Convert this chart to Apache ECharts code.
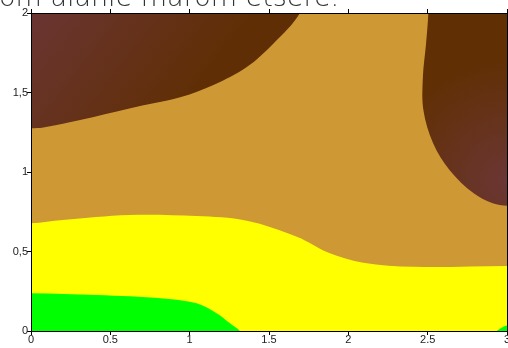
<!DOCTYPE html>
<html>
<head>
<meta charset="utf-8">
<script src="https://cdn.jsdelivr.net/npm/echarts@6/dist/echarts.min.js"></script>
<style>
  html, body { margin: 0; padding: 0; background: #fff; }
  #main { width: 508px; height: 348px; }
</style>
</head>
<body>
<div id="main"></div>
<script>
// boundaries of the filled zones as [x, y]
// (first/last points run past the plot edge, the overflow is clipped)
const yellowZone = [[-0.2, 0.677], [0, 0.677], [0.2, 0.698], [0.62, 0.73], [1.04, 0.723], [1.36, 0.694], [1.675, 0.593], [1.884, 0.489], [2.094, 0.43], [2.41, 0.404], [3, 0.409], [3.2, 0.409], [3.2, -0.3], [-0.2, -0.3]]
const greenZone = [[-0.2, 0.24], [0, 0.237], [0.414, 0.226], [0.834, 0.205], [1.044, 0.174], [1.17, 0.111], [1.254, 0.048], [1.317, 0], [1.36, -0.06], [1.4, -0.3], [-0.2, -0.3]]
const greenCorner = [[2.9, -0.03], [2.935, 0], [2.977, 0.027], [3, 0.035], [3.2, 0.04], [3.2, -0.3], [2.88, -0.3]]
const brownLeftZone = [[-0.2, 1.27], [0, 1.275], [0.078, 1.28], [0.31, 1.327], [0.62, 1.40], [0.94, 1.47], [1.15, 1.547], [1.36, 1.66], [1.53, 1.81], [1.695, 2], [1.76, 2.2], [-0.2, 2.2]]
const brownRightZone = [[2.51, 2.3], [2.504, 2], [2.49, 1.81], [2.47, 1.6], [2.473, 1.39], [2.535, 1.18], [2.64, 1.01], [2.79, 0.866], [2.91, 0.803], [3, 0.788], [3.2, 0.785], [3.2, 2.3]]

const xRange = [0, 3]
const yRange = [0, 2]
const titleText = 'om alanie marom etsere.'

const labelStyle = { color: '#222', fontSize: 11, fontFamily: 'Liberation Sans' }

function axisBase (range, pos, showLabel, fmt) {
  return {
    type: 'value',
    position: pos,
    min: range[0],
    max: range[1],
    interval: 0.5,
    z: 10,
    axisLine: { show: true, onZero: false, lineStyle: { color: '#000', width: 1 } },
    axisTick: { show: true, inside: false, length: 4, lineStyle: { color: '#000' } },
    axisLabel: Object.assign({ show: showLabel, margin: 3, formatter: fmt }, labelStyle),
    splitLine: { show: false }
  }
}

// one filled zone = one custom polygon, smoothed by zrender
function zone (name, points, fillFn, z) {
  return {
    name: name,
    type: 'custom',
    clip: true,
    silent: true,
    z: z,
    data: [0],
    renderItem: function (params, api) {
      const pts = points.map(p => api.coord(p))
      return {
        type: 'polygon',
        shape: { points: pts, smooth: 0.35 },
        style: { fill: fillFn(api) }
      }
    }
  }
}

const myChart = echarts.init(document.getElementById('main'))
myChart.setOption({
  animation: false,
  title: {
    text: titleText,
    left: -6,
    top: -20,
    textStyle: { fontFamily: 'DejaVu Sans', fontWeight: 'lighter', fontSize: 27, color: '#333' }
  },
  grid: {
    left: 31,
    right: 1,
    top: 13,
    bottom: 17,
    show: true,
    borderWidth: 0,
    backgroundColor: '#ce9934',
    outerBoundsMode: 'none',
    containLabel: false
  },
  xAxis: [
    axisBase(xRange, 'bottom', true, v => String(v)),
    axisBase(xRange, 'top', false)
  ],
  yAxis: [
    axisBase(yRange, 'left', true, v => String(v).replace('.', ',')),
    axisBase(yRange, 'right', false)
  ],
  series: [
    zone('yellow', yellowZone, () => '#ffff00', 2),
    zone('green', greenZone, () => '#00ff00', 3),
    zone('green2', greenCorner, () => '#00ff00', 3),
    zone('brownLeft', brownLeftZone, api => {
      const a = api.coord([0, 2])
      const b = api.coord([0.9, 1.3])
      return new echarts.graphic.LinearGradient(a[0], a[1], b[0], b[1], [
        { offset: 0, color: '#6a3533' },
        { offset: 1, color: '#602e04' }
      ], true)
    }, 4),
    zone('brownRight', brownRightZone, api => {
      const c = api.coord([3, 0.95])
      return new echarts.graphic.RadialGradient(c[0], c[1], 120, [
        { offset: 0, color: '#6b3634' },
        { offset: 1, color: '#612f04' }
      ], true)
    }, 4)
  ]
})
</script>
</body>
</html>
